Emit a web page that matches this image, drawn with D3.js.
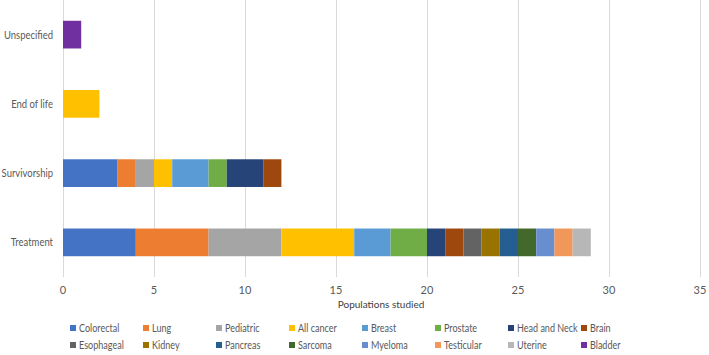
<!DOCTYPE html>
<html><head><meta charset="utf-8">
<script src="https://cdn.jsdelivr.net/npm/d3@7"></script>
<style>body{margin:0;background:#fff}svg{font-family:Lato,"Liberation Sans",sans-serif}</style>
</head><body><svg id="c" width="709" height="355"></svg>
<script>
const categories = ["Unspecified","End of life","Survivorship","Treatment"];
const seriesNames = ["Colorectal","Lung","Pediatric","All cancer","Breast","Prostate","Head and Neck","Brain","Esophageal","Kidney","Pancreas","Sarcoma","Myeloma","Testicular","Uterine","Bladder"];
const seriesColors = ["#4472C4","#ED7D31","#A5A5A5","#FFC000","#5B9BD5","#70AD47","#264478","#9E480E","#636363","#997300","#255E91","#43682B","#698ED0","#F1975A","#B7B7B7","#7030A0"];
// values per series, in order of categories
const Colorectal   = [0,0,3,4];
const Lung         = [0,0,1,4];
const Pediatric    = [0,0,1,4];
const AllCancer    = [0,2,1,4];
const Breast       = [0,0,2,2];
const Prostate     = [0,0,1,2];
const HeadAndNeck  = [0,0,2,1];
const Brain        = [0,0,1,1];
const Esophageal   = [0,0,0,1];
const Kidney       = [0,0,0,1];
const Pancreas     = [0,0,0,1];
const Sarcoma      = [0,0,0,1];
const Myeloma      = [0,0,0,1];
const Testicular   = [0,0,0,1];
const Uterine      = [0,0,0,1];
const Bladder      = [1,0,0,0];
const xTicks = [0,5,10,15,20,25,30,35];
const xTitle = "Populations studied";

const seriesValues = [Colorectal,Lung,Pediatric,AllCancer,Breast,Prostate,HeadAndNeck,Brain,Esophageal,Kidney,Pancreas,Sarcoma,Myeloma,Testicular,Uterine,Bladder];
const rows = categories.map((c,i)=>{const r={cat:c}; seriesNames.forEach((s,j)=>r[s]=seriesValues[j][i]); return r;});
const stacked = d3.stack().keys(seriesNames)(rows);

const svg = d3.select("#c");
const x = d3.scaleLinear().domain([0,35]).range([63,700]);
const y = d3.scaleBand().domain(categories).range([0,277]).paddingInner(0.6).paddingOuter(0.3);
const txt = "#595959";
function condense(sel, f){ sel.each(function(){ const w=this.getComputedTextLength(); this.setAttribute("textLength", w*f); this.setAttribute("lengthAdjust","spacingAndGlyphs"); }); }

// gridlines
svg.append("g").selectAll("line").data(xTicks).join("line")
  .attr("x1",d=>x(d)).attr("x2",d=>x(d)).attr("y1",0).attr("y2",277)
  .attr("stroke","#D9D9D9").attr("stroke-width",1).attr("shape-rendering","crispEdges");

// bars
svg.append("g").selectAll("g").data(stacked).join("g")
  .attr("fill",(d,i)=>seriesColors[i])
  .selectAll("rect").data(d=>d.filter(p=>p[1]>p[0])).join("rect")
  .attr("x",p=>x(p[0])).attr("width",p=>x(p[1])-x(p[0]))
  .attr("y",p=>y(p.data.cat)).attr("height",y.bandwidth());

// x tick labels
svg.append("g").selectAll("text").data(xTicks).join("text")
  .attr("x",d=>x(d)).attr("y",294).attr("text-anchor","middle")
  .attr("font-size",11).attr("fill",txt).text(d=>d);

// y labels
svg.append("g").selectAll("text").data(categories).join("text")
  .attr("x",53).attr("y",d=>y(d)+y.bandwidth()/2+4).attr("text-anchor","end")
  .attr("font-size",11).attr("fill",txt).text(d=>d).call(condense,0.86);

// x title
svg.append("text").attr("x",381).attr("y",308).attr("text-anchor","middle")
  .attr("font-size",10).attr("fill","#404040").text(xTitle);

// legend
const lg = svg.append("g").selectAll("g").data(seriesNames).join("g")
  .attr("transform",(d,i)=>`translate(${70+(i%8)*73},${i<8?329:346})`);
lg.append("rect").attr("x",0).attr("y",-4).attr("width",6).attr("height",6).attr("fill",(d,i)=>seriesColors[i]);
lg.append("text").attr("x",9).attr("y",3).attr("font-size",10.5).attr("fill",txt).text(d=>d).call(condense,0.86);
</script></body></html>
